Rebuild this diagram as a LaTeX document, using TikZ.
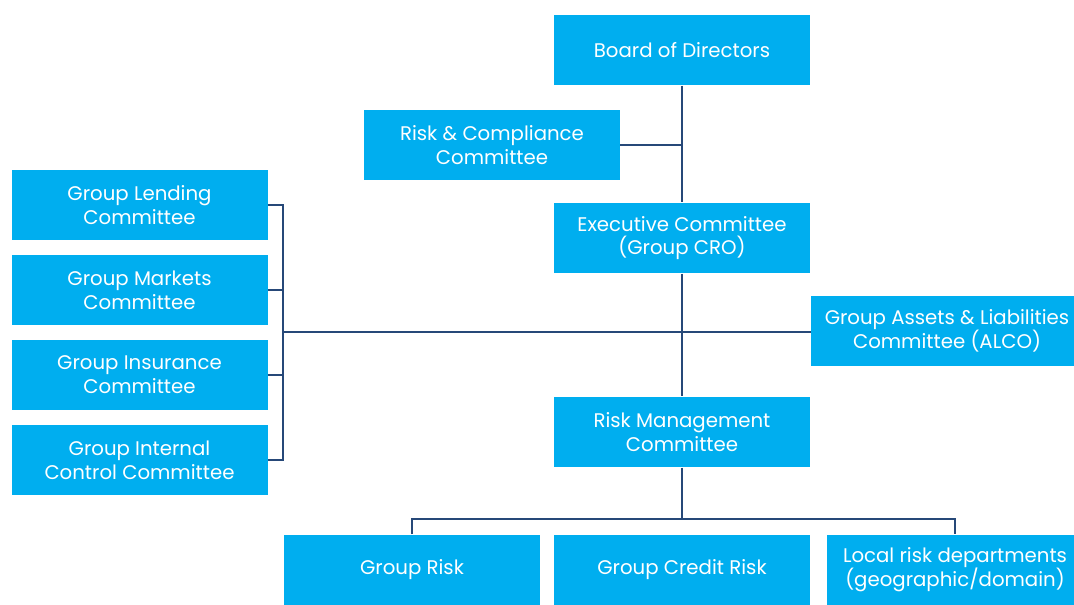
\documentclass[tikz,border=0pt]{standalone}
\usepackage{fontspec}
\setmainfont{Poppins}

\begin{document}
\begin{tikzpicture}[x=0.75pt,y=0.75pt,yscale=-1,xscale=1,
  orgbox/.style={fill={rgb, 255:red, 0; green, 174; blue, 239 }, text=white, inner sep=0pt, minimum width=192pt, minimum height=53pt, align=center, font=\fontsize{14.8}{17.8}\selectfont},
  link/.style={draw={rgb, 255:red, 38; green, 72; blue, 120 }, line width=0.9pt}]
\useasboundingbox (0,0) rectangle (1074,605);

% Boxes
\node [orgbox] (board) at (682,50) {Board of Directors};
\node [orgbox] (riskcomp) at (492,145) {Risk \& Compliance\\Committee};
\node [orgbox] (exec) at (682,238) {Executive Committee\\(Group CRO)};
\node [orgbox] (lending) at (139.5,205) {Group Lending\\Committee};
\node [orgbox] (markets) at (139.5,290) {Group Markets\\Committee};
\node [orgbox] (insurance) at (139.5,375) {Group Insurance\\Committee};
\node [orgbox] (control) at (139.5,460) {Group Internal\\Control Committee};
\node [orgbox, minimum width=204pt] (alco) at (947,331) {Group Assets \& Liabilities\\Committee (ALCO)};
\node [orgbox] (riskmgmt) at (682,432) {Risk Management\\Committee};
\node [orgbox] (grouprisk) at (412,570) {Group Risk};
\node [orgbox] (creditrisk) at (682,570) {Group Credit Risk};
\node [orgbox] (localrisk) at (955,570) {Local risk departments\\(geographic/domain)};

% Lines
\coordinate (brk) at (283,332);
\coordinate (split) at (682,519);
\draw [link] (board) -- (exec);
\draw [link] (riskcomp) -- (riskcomp -| board);
\draw [link] (exec) -- (riskmgmt);
\draw [link] (lending.east) -| (brk) |- (control.east);
\draw [link] (markets.east) -- (markets.east -| brk);
\draw [link] (insurance.east) -- (insurance.east -| brk);
\draw [link] (brk) -- (alco.west |- brk);
\draw [link] (riskmgmt) -- (split);
\draw [link] (grouprisk.north) |- (split) -| (localrisk.north);

\end{tikzpicture}
\end{document}
